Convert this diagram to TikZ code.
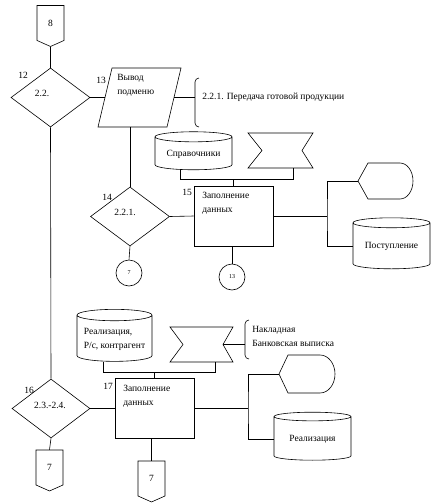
\documentclass[tikz,border=0pt]{standalone}
\usepackage{fontspec}
\setmainfont{Liberation Serif}
\usetikzlibrary{shapes.geometric,shapes.symbols}

\begin{document}
\begin{tikzpicture}[x=1pt, y=-1pt, line width=0.6pt,
    font=\fontsize{9.5}{14}\selectfont,
    dec/.style={diamond, draw, minimum width=79pt, minimum height=59pt, inner sep=0pt},
    proc/.style={rectangle, draw, minimum width=79pt, minimum height=60pt},
    db/.style={cylinder, draw, shape border rotate=90, aspect=0.18, align=left, inner sep=1pt},
    conn/.style={circle, draw, minimum size=26pt, inner sep=0pt, font=\fontsize{6}{7}\selectfont},
    offp/.style={signal, draw, signal to=south, signal pointer angle=132, minimum width=27pt, minimum height=36pt, inner sep=0pt},
    txt/.style={anchor=north west, align=left, inner sep=0pt}
]
\useasboundingbox (0,0) rectangle (443,504);

% top part
\node[offp] (c8) at (50.5,23) {8};
\node[dec] (d22) at (50.5,97.5) {};
\node at (42,93) {2.2.};
\node at (23,75) {12};
\draw (112,68) -- (181,68) -- (167,127) -- (98,127) -- cycle;
\coordinate (io13w) at (105,97.5);
\coordinate (io13e) at (174,97.5);
\coordinate (io13s) at (130,127);
\node[txt] at (117,74) {Вывод\\подменю};
\node at (101,80) {13};
\draw (199,78) to[out=180,in=90] (195,82) -- (195,123) to[out=-90,in=180] (199,127);
\coordinate (br1) at (195,97.5);
\node[anchor=west, inner sep=0pt] (t221) at (202,97.5) {2.2.1. Передача готовой продукции};
\draw (c8.south) -- (d22.north);
\draw (d22.east) -- (io13w);
\draw (io13e) -- (br1);

% block 2.2.1.
\node[dec] (d221) at (130,216.5) {};
\node at (125,212) {2.2.1.};
\node at (107,197) {14};
\node[conn] (k7) at (129,273) {7};
\node[db, minimum width=77pt, minimum height=38pt] (cyl1) at (193.5,154) {Справочники};
\draw (248,133) -- (313,133) -- (302,150.5) coordinate (bw1e) -- (313,168) -- (248,168) -- (262,150.5) -- cycle;
\coordinate (bw1s) at (293,168);
\node[proc] (b15) at (233.5,216) {};
\node[txt] at (202,192) {Заполнение\\данных};
\node at (187,192) {15};
\node[conn] (k13) at (232,277) {13};
\draw (358,181) coordinate (ds1) -- (368,163) -- (400,163) arc[start angle=-90, end angle=90, x radius=13, y radius=18] -- (368,199) -- cycle;
\node[db, minimum width=77pt, minimum height=51pt] (cyl2) at (391.5,246.5) {Поступление};
\coordinate (bus1) at (0,179);
\coordinate (j15) at (327,216);
\draw (io13s) -- (d221.north);
\draw (d221.south) -- (k7.north);
\draw (d221.east) -- (b15.west);
\draw ([xshift=-13.5pt]cyl1.south) |- (bus1 -| bw1s) -- (bw1s);
\draw (bus1 -| b15.north) -- (b15.north);
\draw (b15.south -| k13.north) -- (k13.north);
\draw (b15.east) -- (j15);
\draw (ds1) -| (j15) |- (cyl2.west);

% block 2.3.-2.4.
\node[db, minimum width=75pt, minimum height=52pt] (cyl3) at (114.5,339) {Реализация,\\Р/с, контрагент};
\draw (170,327) -- (233,327) -- (223,344.5) coordinate (bw2e) -- (233,362) -- (170,362) -- (183,344.5) -- cycle;
\coordinate (bw2s) at (215,362);
\draw (249,320) to[out=180,in=90] (245,324) -- (245,355) to[out=-90,in=180] (249,359);
\coordinate (br2) at (245,344.5);
\node[txt] at (252,326) {Накладная\\Банковская выписка};
\node[dec, minimum width=78pt] (d16) at (51,408.5) {};
\node at (50,405) {2.3.-2.4.};
\node at (29,390) {16};
\node[proc] (b17) at (154.5,408.5) {};
\node[txt] at (123,385) {Заполнение\\данных};
\node at (108,386) {17};
\node[offp] (c7a) at (49.5,467.5) {7};
\node[offp] (c7b) at (151.5,478.5) {7};
\draw (279,374) coordinate (ds2) -- (288,355) -- (320,355) arc[start angle=-90, end angle=90, x radius=15, y radius=19] -- (288,393) -- cycle;
\node[db, minimum width=77pt, minimum height=48pt] (cyl4) at (312.5,439) {Реализация};
\coordinate (bus2) at (0,372);
\coordinate (j17) at (248,408.5);
\draw (d22.south) -- (d16.north);
\draw (bw2e) -- (br2);
\draw ([xshift=-11.5pt]cyl3.south) |- (bus2 -| bw2s) -- (bw2s);
\draw (bus2 -| b17.north) -- (b17.north);
\draw (d16.east) -- (b17.west);
\draw (d16.south) -- (c7a.north);
\draw (b17.south -| c7b.north) -- (c7b.north);
\draw (b17.east) -- (j17);
\draw (ds2) -| (j17) |- (cyl4.west);
\end{tikzpicture}
\end{document}
